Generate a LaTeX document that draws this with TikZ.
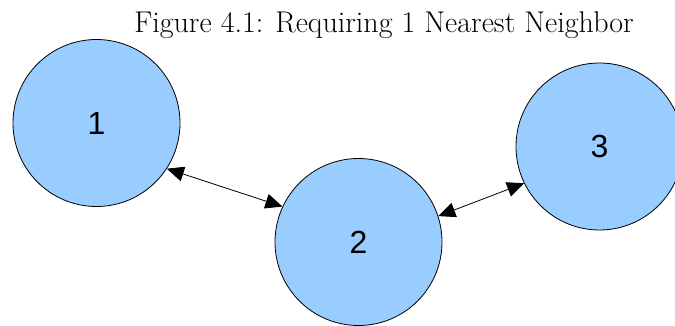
\documentclass[tikz,border=0pt]{standalone}
\usepackage{fontspec}
\newfontfamily\peerfont{Liberation Sans}
\usetikzlibrary{arrows.meta}
\definecolor{peerblue}{HTML}{99CCFF}
\begin{document}
\begin{tikzpicture}[x=1pt,y=1pt,yscale=-1,
        peer/.style={circle,draw=black,line width=0.8pt,fill=peerblue,minimum size=167pt,inner sep=0pt,font=\peerfont\fontsize{32}{36}\selectfont},
        link/.style={{Triangle[length=17pt,width=15pt]}-{Triangle[length=17pt,width=15pt]},line width=0.8pt}]
        \useasboundingbox (0,0) rectangle (675,326);
        \clip (0,0) rectangle (675,326);
        \node[font=\fontsize{30}{34}\selectfont] (title) at (384,25) {Figure 4.1: Requiring 1 Nearest Neighbor};
        \node[peer] (n1) at (96.5,123) {1};
        \node[peer] (n2) at (358.5,242) {2};
        \node[peer] (n3) at (599.5,146.5) {3};
        \draw[link] (n1.-33.7) -- (n2.155.8);
        \draw[link] (n2.18.8) -- (n3.206.4);
        \end{tikzpicture}
\end{document}
